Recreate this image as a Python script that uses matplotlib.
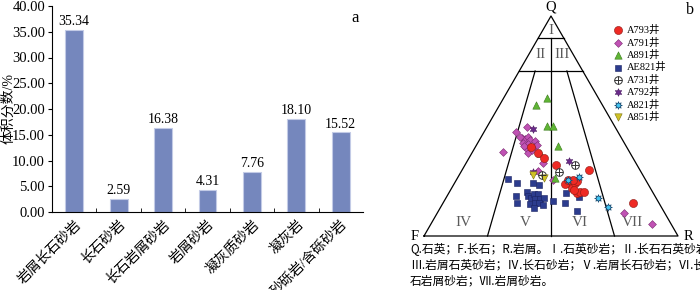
import numpy as np
import matplotlib
matplotlib.use('Agg')
import matplotlib.pyplot as plt

plt.rcParams['font.family'] = ['Liberation Serif', 'Noto Sans CJK SC', 'DejaVu Sans']

# ---- bar chart data (a)
rock_types = ['岩屑长石砂岩', '长石砂岩', '长石岩屑砂岩', '岩屑砂岩', '凝灰质砂岩', '凝灰岩', '砂砾岩/含砾砂岩']
vol_frac = [35.34, 2.59, 16.38, 4.31, 7.76, 18.10, 15.52]

# ---- QFR data (b), percentages Q, F, R
A793_Q = [40.3, 37.9, 35.3, 32.3, 30.0, 24.0, 22.0, 24.0, 25.1, 19.4, 20.1, 20.1, 20.9, 23.5, 15.1, 25.5, 25.5]
A793_F = [37.9, 36.1, 35.0, 31.9, 19.9, 31.8, 30.9, 28.6, 27.1, 30.2, 28.6, 26.9, 30.4, 32.8, 10.1, 30.4, 28.6]
A793_R = [21.8, 26.0, 29.7, 35.8, 50.1, 44.2, 47.1, 47.4, 47.8, 50.4, 51.3, 53.0, 48.7, 43.7, 74.8, 44.1, 45.9]

A791_Q = [49.4, 47.1, 38.1, 44.7, 44.1, 45.1, 43.6, 43.2, 42.1, 41.7, 40.6, 41.4, 39.9, 37.6, 33.0, 29.5, 25.5, 10.3, 5.5, 45.1, 40.9, 39.1]
A791_F = [34.9, 40.3, 50.0, 39.2, 38.2, 36.4, 36.5, 34.7, 39.9, 38.1, 36.3, 34.9, 40.0, 40.4, 36.5, 40.4, 36.3, 16.0, 7.3, 39.7, 40.2, 37.9]
A791_R = [15.7, 12.6, 11.9, 16.1, 17.7, 18.5, 19.9, 22.1, 18.0, 20.2, 23.1, 23.7, 20.1, 22.0, 30.5, 30.1, 38.2, 73.7, 87.2, 15.2, 18.9, 23.0]

A891_Q = [62.6, 59.4, 50.0, 50.0, 40.9, 37.9, 26.2]
A891_F = [20.4, 26.2, 26.5, 24.4, 26.7, 35.4, 35.3]
A891_R = [17.0, 14.4, 23.5, 25.6, 32.4, 26.7, 38.5]

AE821_Q = [25.8, 24.0, 24.0, 23.3, 18.2, 15.1, 20.1, 18.3, 17.1, 19.0, 19.0, 16.8, 16.7, 17.1, 14.4, 14.9, 14.9, 12.9, 14.1, 15.9, 15.1, 19.4, 17.6, 11.5]
AE821_F = [53.9, 51.3, 45.2, 42.9, 54.8, 55.9, 49.5, 49.8, 49.3, 47.1, 45.5, 47.9, 46.0, 44.1, 51.1, 48.8, 47.1, 50.1, 46.0, 41.2, 36.9, 34.5, 30.1, 34.1]
AE821_R = [20.3, 24.7, 30.8, 33.8, 27.0, 29.0, 30.4, 31.9, 33.6, 33.9, 35.5, 35.3, 37.3, 38.8, 34.5, 36.3, 38.0, 37.0, 39.9, 42.9, 48.0, 46.1, 52.3, 54.4]

A731_Q = [32.3, 29.0, 27.7]
A731_F = [24.4, 32.4, 39.8]
A731_R = [43.3, 38.6, 32.5]

A792_Q = [48.5, 34.2, 29.3]
A792_F = [32.7, 25.7, 42.3]
A792_R = [18.8, 40.1, 28.4]

A821_Q = [25.5, 26.7, 17.1, 13.0]
A821_F = [30.4, 25.5, 22.9, 20.9]
A821_R = [44.1, 47.8, 60.0, 66.1]

A851_Q = [27.7, 26.4]
A851_F = [43.3, 39.4]
A851_R = [29.0, 34.2]

wells = ['A793井', 'A791井', 'A891井', 'AE821井', 'A731井', 'A792井', 'A821井', 'A851井']

caption = ['Q.石英；F.长石；R.岩屑。Ⅰ.石英砂岩；Ⅱ.长石石英砂岩；',
           'Ⅲ.岩屑石英砂岩；Ⅳ.长石砂岩；Ⅴ.岩屑长石砂岩；Ⅵ.长',
           '石岩屑砂岩；Ⅶ.岩屑砂岩。']

H = np.sqrt(3) / 2


def tern(q, f, r):
    q = np.asarray(q, float); f = np.asarray(f, float); r = np.asarray(r, float)
    s = q + f + r
    return (r + q / 2) / s, q / s * H


fig = plt.figure(figsize=(7, 2.9), dpi=100)

# ---------------- (a) bar chart
ax = fig.add_axes([52/700, 1-212/290, 311/700, 206/290])
x = np.arange(len(rock_types))
ax.bar(x, vol_frac, width=0.4, color='#7587bd', edgecolor='#c3cbe6', linewidth=0.8)
for xi, v in zip(x, vol_frac):
    ax.text(xi, v + 0.3, '%.2f' % v, ha='center', va='bottom', fontsize=10)
ax.set_xlim(-0.5, len(rock_types) - 0.5)
ax.set_ylim(0, 40)
ax.set_yticks(np.arange(0, 41, 5))
ax.set_yticklabels(['%.2f' % t for t in np.arange(0, 41, 5)], fontsize=10.5)
ax.set_xticks(x)
ax.set_xticklabels(rock_types, rotation=45, ha='right', va='top', rotation_mode='anchor', fontsize=10)
ax.tick_params(axis='x', length=0, pad=4)
ax.set_xticks(np.arange(0.5, len(rock_types) - 0.5, 1), minor=True)
ax.tick_params(axis='x', which='minor', direction='in', length=3)
ax.tick_params(axis='y', direction='out', length=3, pad=2)
ax.spines['top'].set_visible(False)
ax.spines['right'].set_visible(False)
ax.set_ylabel('体积分数/%', fontsize=10)
ax.yaxis.set_label_coords(-37/311, 0.5)
ax.text(0.975, 0.94, 'a', transform=ax.transAxes, fontsize=12, ha='center', va='center')

# ---------------- (b) QFR ternary
bx = fig.add_axes([424/700, 1-236/290, 254/700, 220/290])
bx.set_xlim(0, 1)
bx.set_ylim(0, H)
bx.axis('off')

lk = dict(color='black', lw=0.9, clip_on=False, zorder=1)
bx.plot([0, 1, 0.5, 0], [0, 0, H, 0], **lk)
bx.plot([0.45, 0.55], [0.9*H, 0.9*H], **lk)
bx.plot([0.375, 0.625], [0.75*H, 0.75*H], **lk)
bx.plot([0.5, 0.5], [0, 0.9*H], **lk)
bx.plot([0.4375, 0.25], [0.75*H, 0], **lk)
bx.plot([0.5625, 0.75], [0.75*H, 0], **lk)

gk = dict(color='#5a5a5a', fontsize=11, ha='center', va='center')
bx.text(0.5, 0.935*H, 'I', **gk)
bx.text(0.46, 0.825*H, 'II', **gk)
bx.text(0.543, 0.825*H, 'III', **gk)
bx.text(0.154, 0.06*H, 'IV', **gk)
bx.text(0.398, 0.06*H, 'V', **gk)
bx.text(0.614, 0.06*H, 'VI', **gk)
bx.text(0.82, 0.06*H, 'VII', **gk)

fig.text(551/700, 1-7/290, 'Q', fontsize=10.5, ha='center', va='center')
fig.text(415/700, 1-236/290, 'F', fontsize=10.5, ha='center', va='center')
fig.text(688/700, 1-236/290, 'R', fontsize=10.5, ha='center', va='center')
fig.text(690/700, 1-10/290, 'b', fontsize=11.5, ha='center', va='center')

mk = dict(clip_on=False, zorder=3)
h_ae821 = bx.scatter(*tern(AE821_Q, AE821_F, AE821_R), marker='s', s=22, c='#2c3c8e', edgecolors='#1a2260', linewidths=0.4, **mk)
h_a791 = bx.scatter(*tern(A791_Q, A791_F, A791_R), marker='D', s=16, c='#c052b4', edgecolors='#7a2a70', linewidths=0.4, **mk)
h_a891 = bx.scatter(*tern(A891_Q, A891_F, A891_R), marker='^', s=28, c='#5fb535', edgecolors='#3a7a1a', linewidths=0.4, **mk)
h_a793 = bx.scatter(*tern(A793_Q, A793_F, A793_R), marker='o', s=34, c='#ee2a24', edgecolors='#8a1a15', linewidths=0.4, **mk)
h_a731o = bx.scatter(*tern(A731_Q, A731_F, A731_R), marker='o', s=30, c='white', edgecolors='#333333', linewidths=0.7, **mk)
h_a731p = bx.scatter(*tern(A731_Q, A731_F, A731_R), marker='+', s=30, c='#333333', linewidths=0.7, zorder=4, clip_on=False)
h_a792 = bx.scatter(*tern(A792_Q, A792_F, A792_R), marker=(6, 1, 0), s=30, c='#6b2a8c', edgecolors='#4a1a60', linewidths=0.4, **mk)
h_a821 = bx.scatter(*tern(A821_Q, A821_F, A821_R), marker=(8, 1, 0), s=30, c='#42c3f0', edgecolors='#1a4a70', linewidths=0.5, **mk)
h_a851 = bx.scatter(*tern(A851_Q, A851_F, A851_R), marker='v', s=28, c='#cfc226', edgecolors='#7a7010', linewidths=0.4, **mk)

fig.legend([h_a793, h_a791, h_a891, h_ae821, (h_a731o, h_a731p), h_a792, h_a821, h_a851], wells,
           loc='upper left', bbox_to_anchor=(612/700, 1-25/290), frameon=False,
           fontsize=7.5, handletextpad=0.2, labelspacing=0.22, handlelength=1.2,
           borderpad=0, borderaxespad=0)

for i, line in enumerate(caption):
    fig.text(410/700, 1-(249 + 16*i)/290, line, fontsize=8.5, ha='left', va='center',
             family=['Noto Sans CJK SC', 'DejaVu Sans'])

fig.savefig('out.png', dpi=100)
